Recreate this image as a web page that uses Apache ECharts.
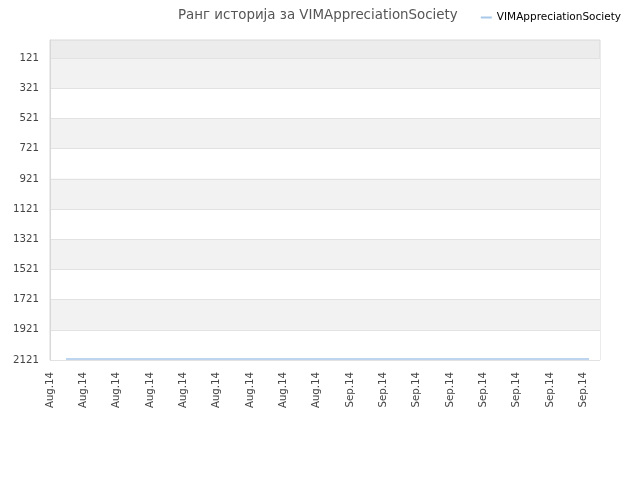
<!DOCTYPE html>
<html><head><meta charset="utf-8">
<script src="https://cdn.jsdelivr.net/npm/echarts@6/dist/echarts.min.js"></script>
<style>html,body{margin:0;padding:0;background:#fff}#c{width:640px;height:480px}</style>
</head><body><div id="c"></div>
<script>
const xLabels = ['Aug.14','Aug.14','Aug.14','Aug.14','Aug.14','Aug.14','Aug.14','Aug.14','Aug.14','Sep.14','Sep.14','Sep.14','Sep.14','Sep.14','Sep.14','Sep.14','Sep.14'];
const yTicks = [121,321,521,721,921,1121,1321,1521,1721,1921,2121];
const pointX = [0.48, 4, 8, 12, 16.17];
const rankValues = [2115, 2115, 2115, 2115, 2115];
const seriesName = 'VIMAppreciationSociety';

const chart = echarts.init(document.getElementById('c'), null, {renderer:'canvas'});
chart.setOption({
  animation:false,
  title:{text:'Ранг историја за VIMAppreciationSociety', left:173, top:4,
    textStyle:{fontFamily:'DejaVu Sans', fontSize:13.4, fontWeight:'normal', color:'#555'}},
  legend:{right:14, top:7, itemWidth:11, itemHeight:2, itemGap:5, icon:'rect',
    textStyle:{fontFamily:'DejaVu Sans', fontSize:10.5, color:'#000'},
    data:[seriesName]},
  grid:{left:50, right:40, top:40, bottom:120, show:true, backgroundColor:'#ececec', borderColor:'#d8d8d8', borderWidth:1},
  xAxis:{type:'value', min:0, max:16.5, interval:1,
    axisLine:{show:false}, axisTick:{show:false}, splitLine:{show:false},
    axisLabel:{rotate:90, fontFamily:'DejaVu Sans', fontSize:10.2, color:'#444', margin:12, showMaxLabel:false,
      formatter:(v)=>{const i=Math.round(v); return (Math.abs(v-i)<1e-6 && xLabels[i]!==undefined)?xLabels[i]:'';}}},
  yAxis:{type:'value', inverse:true, min:1, max:2121,
    axisLine:{show:true, lineStyle:{color:'#d8d8d8'}},
    axisTick:{show:false, customValues:yTicks},
    axisLabel:{customValues:yTicks, fontFamily:'DejaVu Sans', fontSize:10.2, color:'#444', margin:11,
      formatter:(v)=>String(v)},
    splitLine:{show:true, lineStyle:{color:'#e2e2e2'}},
    splitArea:{show:true, areaStyle:{color:['#f2f2f2','#ffffff']}}},
  series:[{name:seriesName, type:'line', showSymbol:false, data:pointX.map((x,i)=>[x,rankValues[i]]),
    lineStyle:{color:'#a8c8ea', width:1.5}, itemStyle:{color:'#a8c8ea'}}]
});
</script></body></html>
